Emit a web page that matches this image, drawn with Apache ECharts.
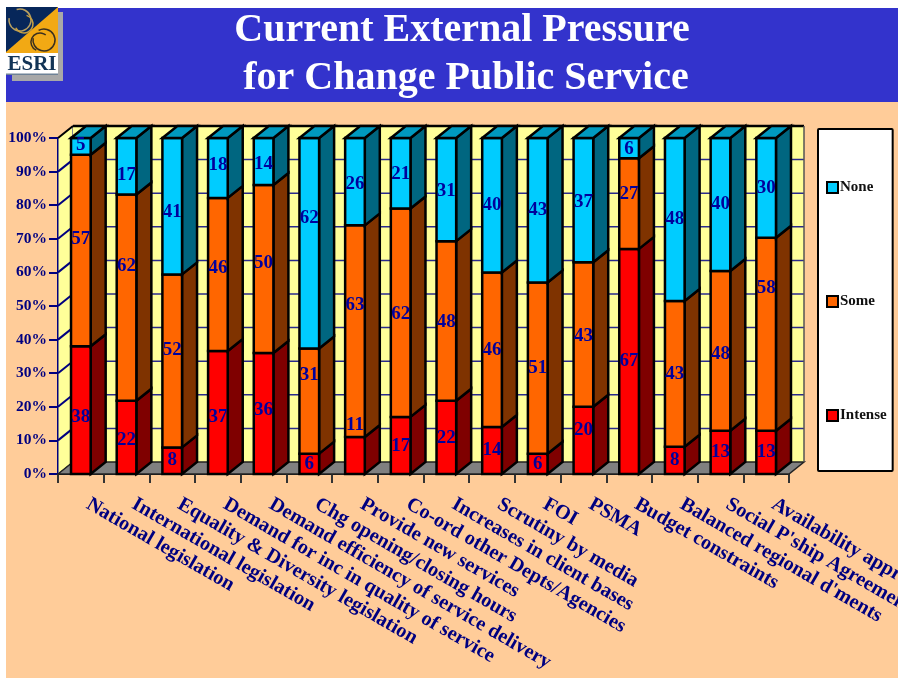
<!DOCTYPE html>
<html>
<head>
<meta charset="utf-8">
<style>html,body{margin:0;padding:0;background:#fff;overflow:hidden}#c{width:898px;height:678px}</style>
<script src="https://cdn.jsdelivr.net/npm/echarts@6/dist/echarts.min.js"></script>
</head>
<body>
<div id="c"></div>
<script>
const categories = ["National legislation","International legislation","Equality & Diversity legislation","Demand for inc in quality of service","Demand efficiency of service delivery","Chg opening/closing hours","Provide new services","Co-ord other Depts/Agencies","Increases in client bases","Scrutiny by media","FOI","PSMA","Budget constraints","Balanced regional d'ments","Social P'ship Agreement","Availability appr"];
const intense = [38,22,8,37,36,6,11,17,22,14,6,20,67,8,13,13];
const some    = [57,62,52,46,50,31,63,62,48,46,51,43,27,43,48,58];
const none    = [5,17,41,18,14,62,26,21,31,40,43,37,6,48,40,30];
const yTicks  = [0,10,20,30,40,50,60,70,80,90,100];
// label placement quirks of the original, in px relative to the segment centre
const nudgeIntense = [7,3,-1,5,-3,0,-30,1,1,0,0,-10,0,0,0,0];
const nudgeSome    = [-11,-32,-11,-6,-6,-26,-26,1,1,0,0,2,-9,0,3,-46];
const nudgeNone    = [-1,9,6,-3,3,-25,2,1,2,0,0,2,1,0,0,0];

const DX = 15, DY = 12, SERIF = '"Liberation Serif","Times New Roman",serif';
const NAVY = '#000080', LABEL = '#00009C';

function build(arr, nudge, level) {
  return arr.map((v, i) => {
    const total = intense[i] + some[i] + none[i];
    const below = level === 0 ? 0 : level === 1 ? intense[i] : intense[i] + some[i];
    return [i, below / total * 100, (below + v) / total * 100, v, nudge[i]];
  });
}
function barSeries(name, arr, nudge, level, front, side, top) {
  return {
    name, type: 'custom', coordinateSystem: 'cartesian2d', z: 5, clip: false,
    itemStyle: { color: front },
    encode: { x: 0, y: [1, 2] },
    data: build(arr, nudge, level),
    renderItem(params, api) {
      const a = api.coord([api.value(0), api.value(1)]);
      const b = api.coord([api.value(0), api.value(2)]);
      const w = api.size([1, 0])[0] * 0.43;
      const l = a[0] - w / 2, r = a[0] + w / 2;
      const edge = { stroke: '#000', lineWidth: 2.5, lineJoin: 'miter' };
      const kids = [
        { type: 'polygon', shape: { points: [[r, a[1]], [r + DX, a[1] - DY], [r + DX, b[1] - DY], [r, b[1]]] }, style: { fill: side, ...edge } },
        { type: 'rect', shape: { x: l, y: b[1], width: w, height: a[1] - b[1] }, style: { fill: front, ...edge } }
      ];
      if (top) kids.push({ type: 'polygon', shape: { points: [[l, b[1]], [l + DX, b[1] - DY], [r + DX, b[1] - DY], [r, b[1]]] }, style: { fill: top, ...edge } });
      kids.push({ type: 'text', z2: 50, style: { text: String(api.value(3)), x: a[0], y: (a[1] + b[1]) / 2 + api.value(4), align: 'center', verticalAlign: 'middle', fill: LABEL, font: 'bold 19px ' + SERIF } });
      return { type: 'group', children: kids };
    }
  };
}
const wallSeries = {
  type: 'custom', coordinateSystem: 'cartesian2d', z: 1, clip: false, silent: true,
  data: [[0, 0]],
  renderItem(params, api) {
    const cs = params.coordSys;
    const x0 = cs.x, x1 = cs.x + cs.width;
    const yb = api.coord([0, 0])[1], yt = api.coord([0, 100])[1];
    const kids = [
      { type: 'polygon', shape: { points: [[x0, yb], [x0 + DX, yb - DY], [x0 + DX, yt - DY], [x0, yt]] }, style: { fill: '#FFFF99', stroke: '#000080', lineWidth: 1 } },
      { type: 'rect', shape: { x: x0 + DX, y: yt - DY, width: cs.width, height: yb - yt }, style: { fill: '#FFFF99' } },
      { type: 'polygon', shape: { points: [[x0, yb], [x0 + DX, yb - DY], [x1 + DX, yb - DY], [x1, yb]] }, style: { fill: '#808080', stroke: '#222', lineWidth: 1.5 } }
    ];
    yTicks.forEach(t => {
      const y = api.coord([0, t])[1];
      if (t > 0 && t < 100) kids.push({ type: 'line', shape: { x1: x0 + DX, y1: y - DY, x2: x1 + DX, y2: y - DY }, style: { stroke: '#2A2A8C', lineWidth: 1.5 } });
      if (t > 0) kids.push({ type: 'line', shape: { x1: x0, y1: y, x2: x0 + DX, y2: y - DY }, style: { stroke: t === 100 ? '#000' : '#000080', lineWidth: 2 } });
    });
    kids.push({ type: 'line', shape: { x1: x0 + DX, y1: yt - DY, x2: x1 + DX, y2: yt - DY }, style: { stroke: '#000', lineWidth: 2.5 } });
    kids.push({ type: 'line', shape: { x1: x1 + DX, y1: yt - DY, x2: x1 + DX, y2: yb - DY }, style: { stroke: '#555', lineWidth: 1.5 } });
    return { type: 'group', children: kids };
  }
};
function ring(cx, cy, r, s, e, c) {
  return { type: 'arc', z: 21, shape: { cx, cy, r, startAngle: s, endAngle: e }, style: { stroke: c, fill: null, lineWidth: 1.5 } };
}
const titleStyle = { color: '#fff', fontFamily: SERIF, fontWeight: 'bold', fontSize: 40, lineHeight: 48 };
const chart = echarts.init(document.getElementById('c'));
chart.setOption({
  animation: false,
  backgroundColor: '#fff',
  title: [
    { text: 'Current External Pressure', left: 457, top: 2, textAlign: 'center', textStyle: titleStyle },
    { text: 'for Change Public Service', left: 461, top: 50, textAlign: 'center', textStyle: titleStyle }
  ],
  graphic: { elements: [
    { type: 'rect', z: -10, shape: { x: 6, y: 100, width: 892, height: 578 }, style: { fill: '#FFCC99' } },
    { type: 'rect', z: -9, shape: { x: 6, y: 8, width: 892, height: 94 }, style: { fill: '#3333CC' } },
    { type: 'rect', z: 18, shape: { x: 12, y: 12, width: 51, height: 69 }, style: { fill: '#A8A8A8' } },
    { type: 'rect', z: 19, shape: { x: 6, y: 7, width: 52, height: 68 }, style: { fill: '#FFFFFF' } },
    { type: 'rect', z: 19, shape: { x: 6, y: 7, width: 52, height: 46 }, style: { fill: '#F2A914' } },
    { type: 'polygon', z: 20, shape: { points: [[6, 7], [58, 7], [6, 52]] }, style: { fill: '#07275A' } },
    ring(20, 20, 11, 4.4, 9.6, '#B8A060'), ring(24, 24, 9, 5, 9, '#C8A040'),
    ring(44, 40, 11, 4.2, 9.6, '#3A3020'), ring(40, 42, 9, 2, 5.4, '#3A3020'),
    { type: 'text', z: 22, style: { text: 'ESRI', x: 32, y: 65, align: 'center', verticalAlign: 'middle', fill: '#123456', font: 'bold 21px ' + SERIF } },
    { type: 'rect', z: 22, shape: { x: 6, y: 73.5, width: 52, height: 1.5 }, style: { fill: '#6E8296' } }
  ] },
  legend: {
    orient: 'vertical', left: 818, top: 129,
    data: ['None', 'Some', 'Intense'],
    icon: 'rect', itemWidth: 11, itemHeight: 11, itemGap: 99,
    padding: [51, 6, 48, 8],
    backgroundColor: '#fff', borderColor: '#000', borderWidth: 2, borderRadius: 1,
    selectedMode: false,
    itemStyle: { borderColor: '#000', borderWidth: 2 },
    textStyle: { color: '#111', fontFamily: SERIF, fontWeight: 'bold', fontSize: 15, padding: [0, 0, 0, -3] }
  },
  grid: { left: 58, top: 138, right: 109, bottom: 204, containLabel: false, outerBoundsMode: 'none' },
  xAxis: {
    type: 'category', data: categories, boundaryGap: true,
    axisLine: { lineStyle: { color: '#111', width: 2 } },
    axisTick: { show: true, alignWithLabel: false, interval: 0, length: 9, lineStyle: { color: '#333', width: 2 } },
    axisLabel: { interval: 0, rotate: -30, margin: 25, padding: [0, 0, 0, 8], color: NAVY, fontFamily: SERIF, fontWeight: 'bold', fontSize: 20.3, hideOverlap: false }
  },
  yAxis: {
    type: 'value', min: 0, max: 100, interval: 10,
    splitLine: { show: false },
    axisLine: { show: true, lineStyle: { color: NAVY, width: 2 } },
    axisTick: { show: true, length: 9, lineStyle: { color: NAVY, width: 2 } },
    axisLabel: { formatter: '{value}%', margin: 11, color: NAVY, fontFamily: SERIF, fontWeight: 'bold', fontSize: 15.5 }
  },
  series: [
    wallSeries,
    barSeries('Intense', intense, nudgeIntense, 0, '#FF0000', '#7F0000', null),
    barSeries('Some', some, nudgeSome, 1, '#FF6600', '#7F3300', null),
    barSeries('None', none, nudgeNone, 2, '#00CCFF', '#006680', '#0099BF')
  ]
});
</script>
</body>
</html>
